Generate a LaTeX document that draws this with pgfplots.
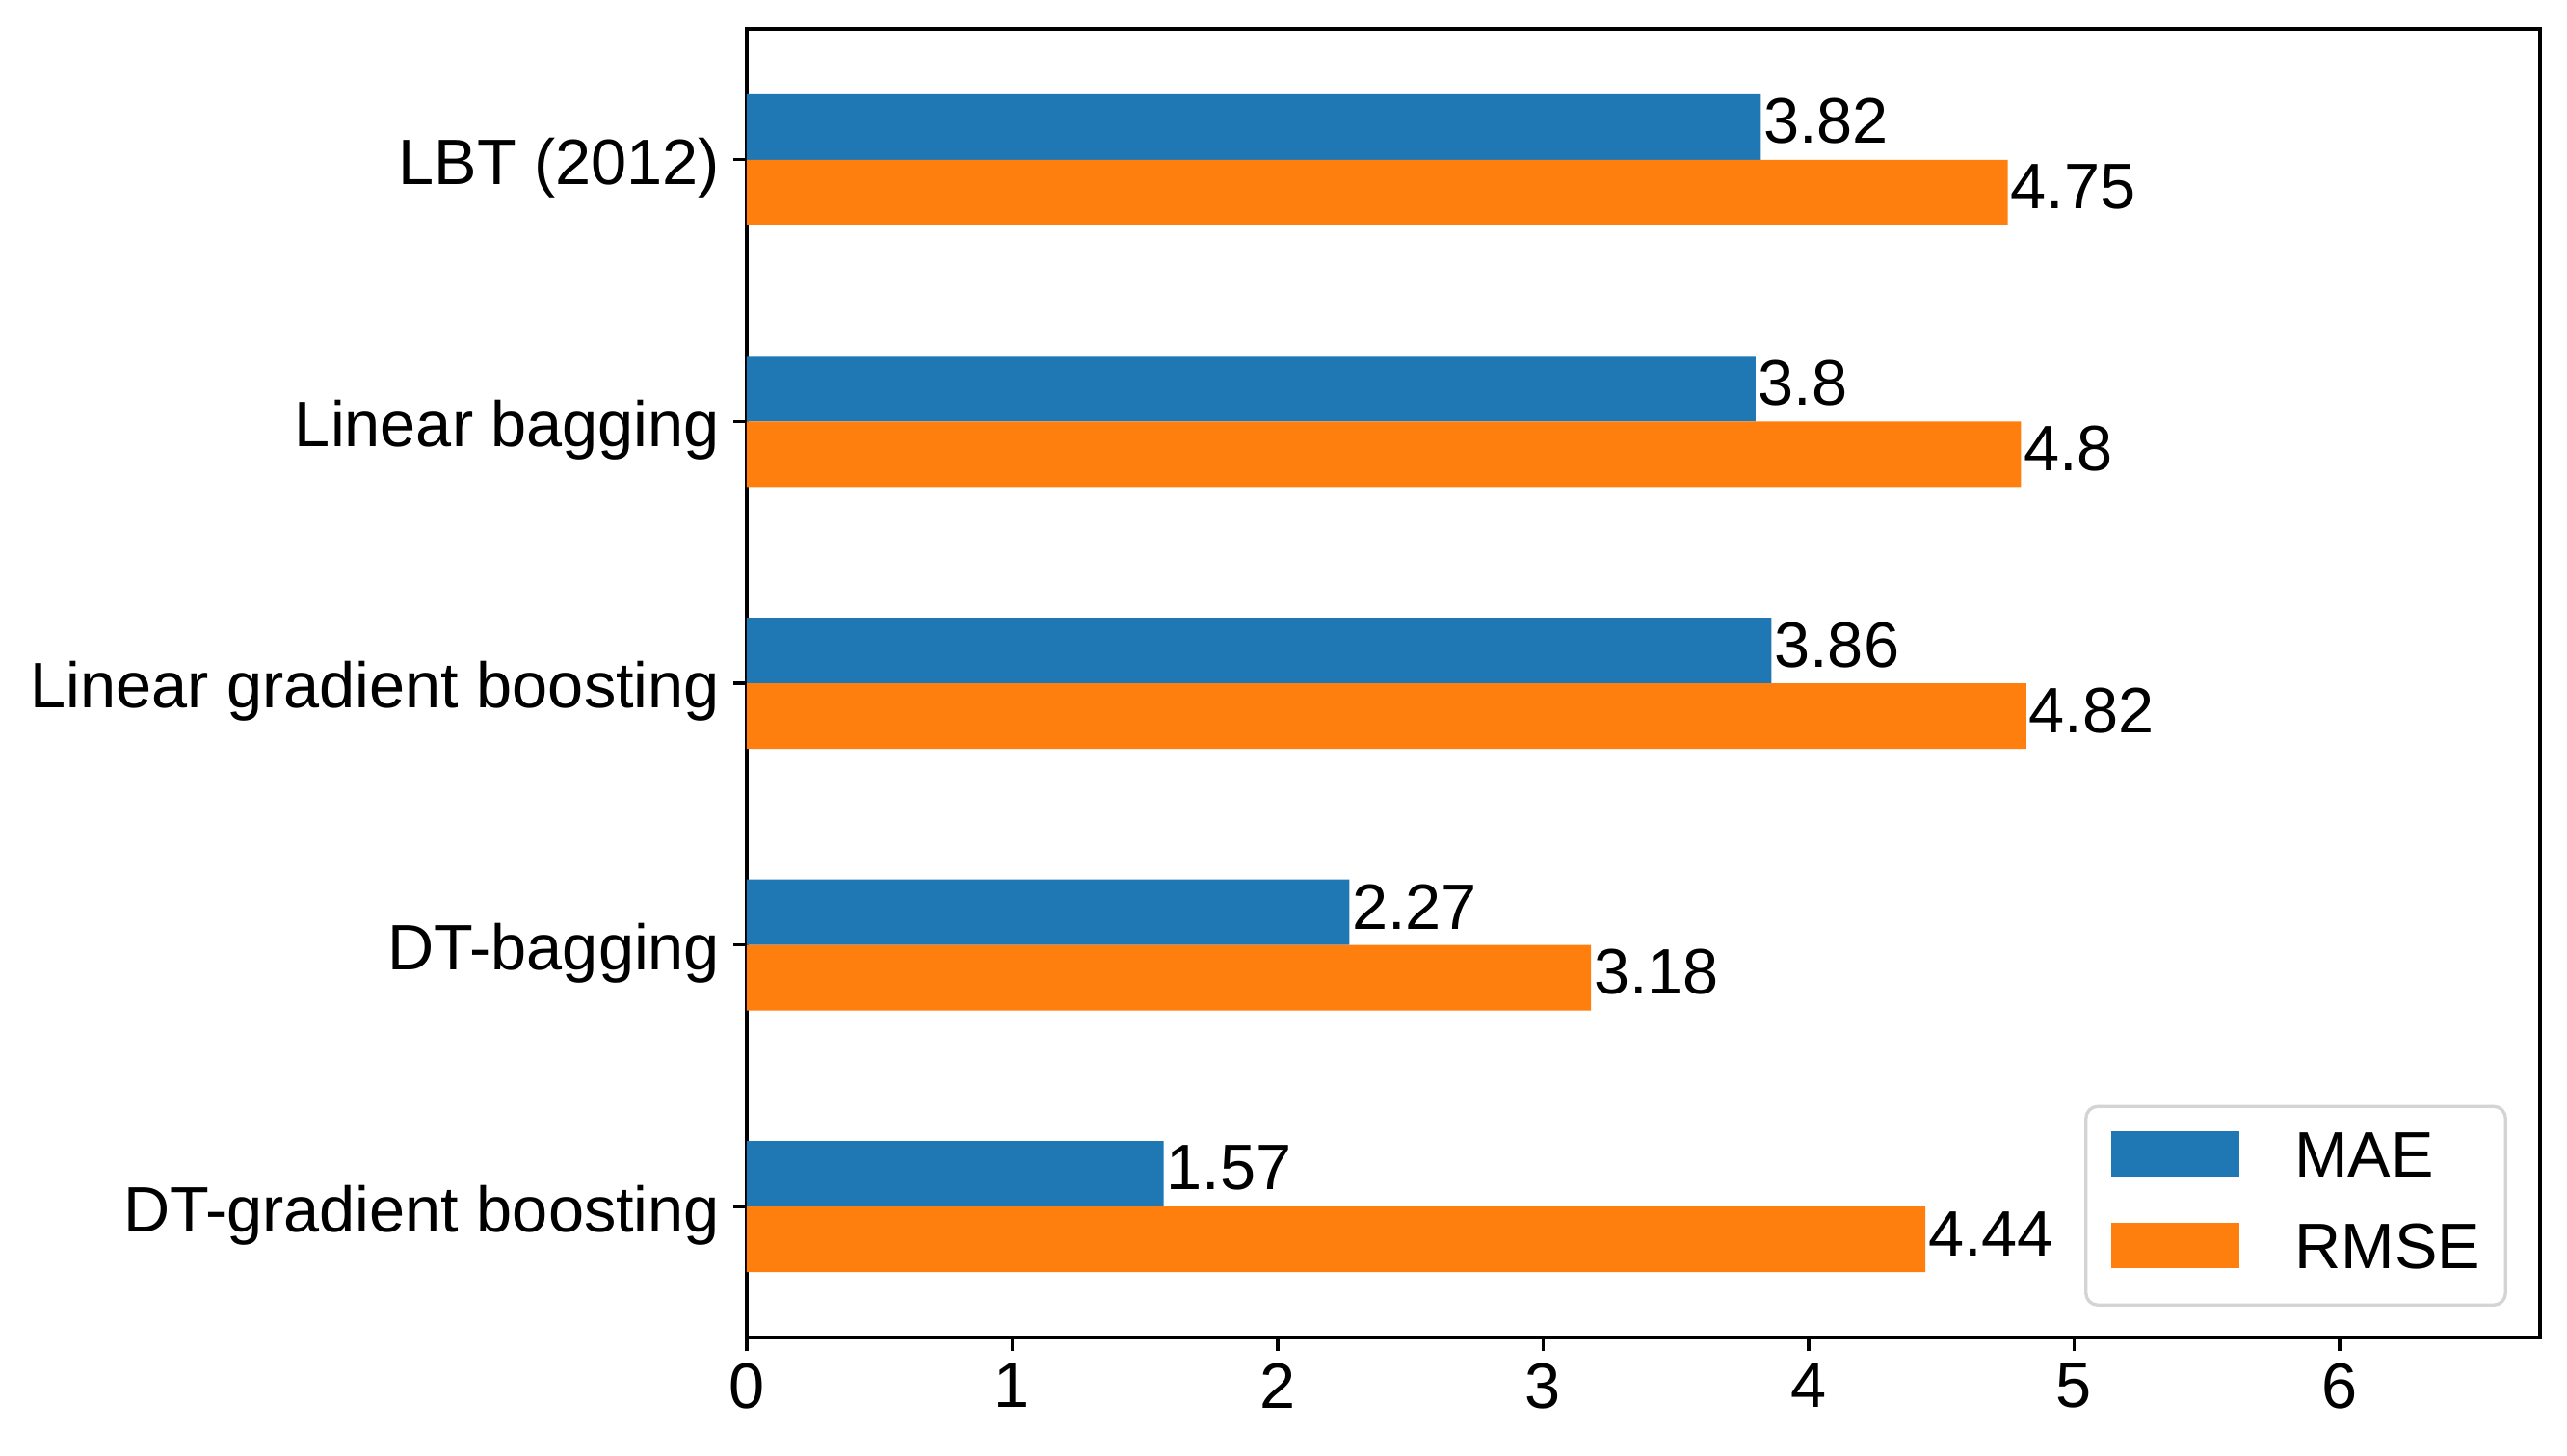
\documentclass[border=0pt]{standalone}
\usepackage{fontspec}
\setmainfont{Liberation Sans}
\usepackage{pgfplots}
\pgfplotsset{compat=1.18}
\definecolor{tabblue}{HTML}{1F77B4}
\definecolor{taborange}{HTML}{FF7F0E}
\begin{document}
\fontsize{16}{19}\selectfont
\begin{tikzpicture}
\path[use as bounding box] (-186pt,-29.28pt) rectangle (453.36pt,333.12pt);
\begin{axis}[
  at={(0,0)}, anchor=south west,
  scale only axis, width=446.64pt, height=325.92pt,
  xbar, bar width=16.32pt,
  xmin=0, xmax=6.755, ymin=-0.5, ymax=4.5,
  ytick={0,1,2,3,4},
  yticklabels={DT-gradient boosting, DT-bagging, Linear gradient boosting, Linear bagging, LBT (2012)},
  xtick={0,1,2,3,4,5,6},
  tick align=outside, xtick pos=bottom, ytick pos=left,
  major tick length=3.4pt,
  every tick/.style={black, line width=0.8pt},
  axis line style={line width=0.8pt},
  /pgf/number format/assume math mode=true,
  ticklabel style={font=\fontsize{16}{19}\selectfont, inner sep=0pt},
  yticklabel style={anchor=east, xshift=-3.1pt, text height=11.46pt, text depth=0pt, yshift=-0.5pt},
  xticklabel style={anchor=north, yshift=-2.9pt},
  nodes near coords,
  every node near coord/.style={anchor=west, inner sep=0pt, xshift=0.5pt, font=\fontsize{16}{19}\selectfont, text=black},
  legend cell align=left,
  legend image code/.code={\fill[#1, sharp corners] (0pt,-4.15pt) rectangle (32pt,7.15pt);},
  legend style={at={(0.9817,0.0236)}, anchor=south east, draw=black!17, line width=0.8pt, rounded corners=3pt, fill=white,
    inner xsep=6.3pt, inner ysep=6.1pt, row sep=8.34pt,
    nodes={inner sep=0pt, text height=11.46pt, text depth=3pt, font=\fontsize{16}{19}\selectfont},
    /tikz/every odd column/.append style={column sep=13.7pt}},
]
\addplot[fill=tabblue, draw=none, bar shift=8.16pt,
  every node near coord/.append style={yshift=9.56pt}] coordinates {(1.57,0) (2.27,1) (3.86,2) (3.8,3) (3.82,4)};
\addlegendentry{MAE}
\addplot[fill=taborange, draw=none, bar shift=-8.16pt,
  every node near coord/.append style={yshift=-6.76pt}] coordinates {(4.44,0) (3.18,1) (4.82,2) (4.8,3) (4.75,4)};
\addlegendentry{RMSE}
\end{axis}
\end{tikzpicture}
\end{document}
